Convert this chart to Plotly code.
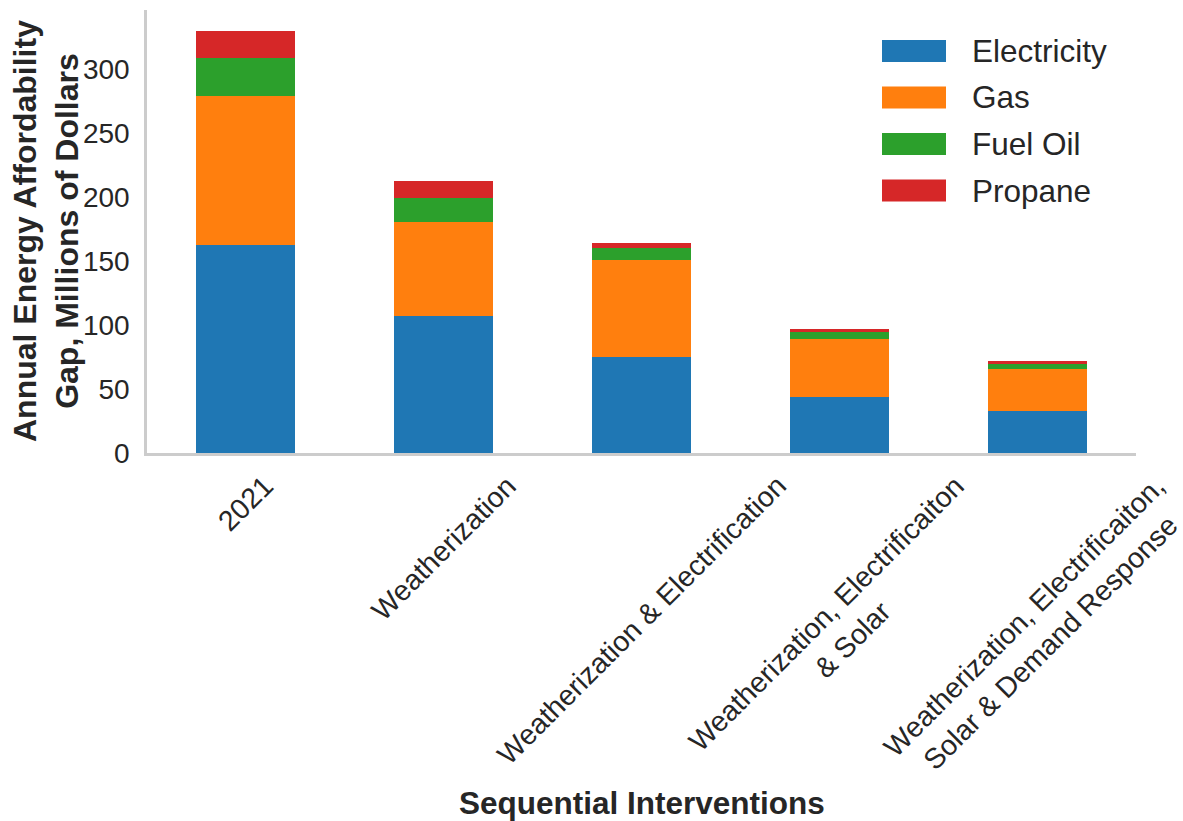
import plotly.graph_objects as go

# ---- data ----
categories = [
    "2021",
    "Weatherization",
    "Weatherization & Electrification",
    "Weatherization, Electrificaiton<br>& Solar",
    "Weatherization, Electrificaiton,<br>Solar & Demand Response",
]
series_names = ["Electricity", "Gas", "Fuel Oil", "Propane"]
electricity = [162.5, 107.3, 74.8, 44.0, 32.6]
gas = [116.2, 73.2, 76.0, 44.8, 33.0]
fuel_oil = [30.1, 19.0, 9.6, 5.5, 4.2]
propane = [20.9, 13.0, 3.9, 2.6, 1.8]
y_ticks = [0, 50, 100, 150, 200, 250, 300]

series_values = [electricity, gas, fuel_oil, propane]
colors = ["#1f77b4", "#ff7f0e", "#2ca02c", "#d62728"]

# ---- layout geometry (pixels) ----
W, H = 1183, 821
L, R, T, B = 147, 47, 10, 368
PW, PH = W - L - R, H - T - B
FONT = "Liberation Sans, Arial, Helvetica, sans-serif"
TXT = "#262626"


def px_x(x):
    return (x - L) / PW


def px_y(y):
    return (H - B - y) / PH


positions = list(range(len(categories)))
totals = [sum(v) for v in zip(*series_values)]

fig = go.Figure()
for name, vals, col in zip(series_names, series_values, colors):
    fig.add_trace(go.Bar(
        x=positions, y=vals, name=name, width=0.5,
        marker=dict(color=col, line=dict(width=0)),
        showlegend=False,
    ))

annotations = []
# rotated category labels (centred like matplotlib rotation=45, ha='center')
for pos, lab in zip(positions, categories):
    annotations.append(dict(
        x=pos, xref="x", y=px_y(467), yref="paper",
        text=lab, textangle=-45, showarrow=False,
        xanchor="center", yanchor="top", align="center",
        font=dict(family=FONT, size=28.5, color=TXT),
    ))

# axis titles
annotations.append(dict(
    x=0.5, xref="paper", y=px_y(803), yref="paper",
    text="<b>Sequential Interventions</b>", showarrow=False,
    xanchor="center", yanchor="middle",
    font=dict(family=FONT, size=31.5, color=TXT),
))
annotations.append(dict(
    x=px_x(46), xref="paper", y=px_y(231), yref="paper",
    text="<b>Annual Energy Affordability<br>Gap, Millions of Dollars</b>",
    textangle=-90, showarrow=False, xanchor="center", yanchor="middle",
    align="center",
    font=dict(family=FONT, size=32, color=TXT),
))

# custom legend (wide patches like matplotlib)
shapes = []
for i, (name, col) in enumerate(zip(series_names, colors)):
    cy = 51 + i * 46.5
    shapes.append(dict(
        type="rect", xref="paper", yref="paper",
        x0=px_x(882), x1=px_x(946), y0=px_y(cy + 11), y1=px_y(cy - 11),
        fillcolor=col, line=dict(width=0),
    ))
    annotations.append(dict(
        x=px_x(970), xref="paper", y=px_y(cy), yref="paper",
        text=name, showarrow=False, xanchor="left", yanchor="middle",
        font=dict(family=FONT, size=31.5, color=TXT),
    ))

fig.update_layout(
    width=W, height=H,
    margin=dict(l=L, r=R, t=T, b=B, autoexpand=False),
    barmode="stack",
    plot_bgcolor="white", paper_bgcolor="white",
    annotations=annotations, shapes=shapes,
    font=dict(family=FONT, color=TXT),
)
fig.update_xaxes(
    range=[-0.5, len(categories) - 0.5], showticklabels=False,
    showgrid=False, zeroline=False, ticks="",
    showline=True, linecolor="#cccccc", linewidth=2.5,
)
fig.update_yaxes(
    range=[0, max(totals) * 1.05], tickvals=y_ticks,
    showgrid=False, zeroline=False, ticks="",
    ticklabelstandoff=9,
    showline=True, linecolor="#cccccc", linewidth=2.5,
    tickfont=dict(family=FONT, size=28, color=TXT),
)

fig.write_html(
    "out.html",
    config={"displayModeBar": False},
    post_script="document.body.style.margin='0';document.body.style.overflow='hidden';",
)
